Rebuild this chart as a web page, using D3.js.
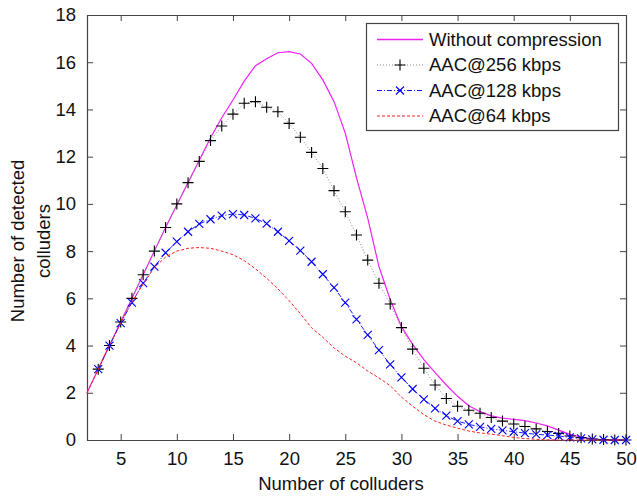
<!DOCTYPE html>
<html>
<head>
<meta charset="utf-8">
<script src="https://cdn.jsdelivr.net/npm/d3@7"></script>
<style>
  body { margin: 0; background: #fff; }
  text { font-family: "Liberation Sans", Arial, sans-serif; fill: #111; }
</style>
</head>
<body>
<script>
const svgWidth = 637;
const svgHeight = 497;

// number of colluders
const colluders = [2, 3, 4, 5, 6, 7, 8, 9, 10, 11, 12, 13, 14, 15, 16, 17, 18, 19, 20,
  21, 22, 23, 24, 25, 26, 27, 28, 29, 30, 31, 32, 33, 34, 35, 36, 37, 38, 39, 40,
  41, 42, 43, 44, 45, 46, 47, 48, 49, 50];

const noCompression = [2, 3, 4, 5, 6, 7, 8, 9, 9.95, 10.9, 11.85, 12.8, 13.65, 14.4, 15.2, 15.85, 16.15, 16.4, 16.45,
  16.35, 15.95, 15.25, 14.33, 13.0, 11.1, 9.4, 7.34, 5.95, 4.8, 4.05, 3.4, 2.85, 2.33, 1.85, 1.45, 1.2, 1.02, 0.93, 0.87,
  0.82, 0.72, 0.6, 0.42, 0.24, 0.12, 0.05, 0.01, 0, 0];

const aac256 = [null, 3, 4, 5, 6, 7, 8, 9, 10, 10.9, 11.8, 12.68, 13.3, 13.8, 14.26, 14.33, 14.09, 13.9, 13.41,
  12.82, 12.18, 11.5, 10.56, 9.67, 8.68, 7.62, 6.64, 5.76, 4.76, 3.85, 3.04, 2.33, 1.76, 1.43, 1.26, 1.13, 0.95, 0.8, 0.68,
  0.57, 0.47, 0.36, 0.28, 0.17, 0.1, 0.04, 0.02, 0, 0];

const aac128 = [null, 3, 4, 4.95, 5.82, 6.64, 7.34, 7.93, 8.4, 8.82, 9.15, 9.35, 9.5, 9.57, 9.53, 9.39, 9.16, 8.82, 8.43,
  8.02, 7.55, 7.02, 6.45, 5.82, 5.11, 4.45, 3.81, 3.2, 2.65, 2.16, 1.72, 1.34, 1.03, 0.8, 0.66, 0.56, 0.47, 0.41, 0.35,
  0.29, 0.24, 0.21, 0.17, 0.11, 0.07, 0.03, 0.01, 0, 0];

const aac64 = [2, 3, 4, 4.95, 5.85, 6.6, 7.3, 7.75, 8.0, 8.12, 8.15, 8.12, 8.0, 7.85, 7.6, 7.25, 6.85, 6.4, 5.9,
  5.35, 4.75, 4.35, 3.9, 3.55, 3.27, 2.92, 2.63, 2.3, 1.82, 1.43, 1.07, 0.8, 0.63, 0.5, 0.38, 0.3, 0.25, 0.18, 0.11,
  0.06, 0.03, 0.01, 0, 0, 0, 0, 0, 0, 0];

const xTicks = [5, 10, 15, 20, 25, 30, 35, 40, 45, 50];
const yTicks = [0, 2, 4, 6, 8, 10, 12, 14, 16, 18];

const series = [
  { name: 'Without compression', values: noCompression, color: '#f020f0', dash: null, marker: null },
  { name: 'AAC@256 kbps', values: aac256, color: '#888', dash: '1,2', marker: 'plus', markerColor: '#000' },
  { name: 'AAC@128 kbps', values: aac128, color: '#1a1aff', dash: '5,2,1,2', marker: 'cross', markerColor: '#0000ff' },
  { name: 'AAC@64 kbps', values: aac64, color: '#ff2020', dash: '3,2', marker: null }
];

const margin = { left: 87, right: 11, top: 15, bottom: 57 };
const plotW = svgWidth - margin.left - margin.right;
const plotH = svgHeight - margin.top - margin.bottom;

const svg = d3.select('body')
              .append('svg')
              .attr('width', svgWidth)
              .attr('height', svgHeight);

const x = d3.scaleLinear().domain([2, 50]).range([margin.left, margin.left + plotW]);
const y = d3.scaleLinear().domain([0, 18]).range([margin.top + plotH, margin.top]);

const axisColor = '#444';

// axes with inward ticks, box style
function styleAxis(g) {
  g.select('.domain').attr('stroke', axisColor).attr('stroke-width', 1.2);
  g.selectAll('.tick line').attr('stroke', axisColor).attr('stroke-width', 1);
  g.selectAll('.tick text')
   .attr('fill', '#111')
   .style('font-size', '18.5px')
   .style('font-family', '"Liberation Sans", Arial, sans-serif');
}

svg.append('g')
   .attr('transform', `translate(0,${margin.top + plotH})`)
   .call(d3.axisBottom(x).tickValues(xTicks).tickSizeInner(-6).tickSizeOuter(0).tickPadding(12))
   .call(styleAxis);

svg.append('g')
   .attr('transform', `translate(0,${margin.top})`)
   .call(d3.axisTop(x).tickValues(xTicks).tickSizeInner(-6).tickSizeOuter(0).tickFormat(''))
   .call(styleAxis);

svg.append('g')
   .attr('transform', `translate(${margin.left},0)`)
   .call(d3.axisLeft(y).tickValues(yTicks).tickSizeInner(-6).tickSizeOuter(0).tickPadding(11))
   .call(styleAxis);

svg.append('g')
   .attr('transform', `translate(${margin.left + plotW},0)`)
   .call(d3.axisRight(y).tickValues(yTicks).tickSizeInner(-6).tickSizeOuter(0).tickFormat(''))
   .call(styleAxis);

// lines
const line = d3.line()
               .defined(d => d[1] !== null)
               .x(d => x(d[0]))
               .y(d => y(d[1]));

function markerPath(type, s) {
  if (type === 'plus') return `M${-s},0H${s}M0,${-s}V${s}`;
  return `M${-s},${-s}L${s},${s}M${-s},${s}L${s},${-s}`;
}

series.forEach(s => {
  const pts = colluders.map((c, i) => [c, s.values[i]]);
  svg.append('path')
     .datum(pts)
     .attr('fill', 'none')
     .attr('stroke', s.color)
     .attr('stroke-width', s.dash ? 1 : 1.2)
     .attr('stroke-dasharray', s.dash)
     .attr('d', line);

  if (s.marker) {
    svg.append('g')
       .selectAll('path')
       .data(pts.filter(d => d[1] !== null))
       .enter()
       .append('path')
       .attr('transform', d => `translate(${x(d[0])},${y(d[1])})`)
       .attr('d', markerPath(s.marker, s.marker === 'plus' ? 5.5 : 4))
       .attr('stroke', s.markerColor)
       .attr('stroke-width', 1.1)
       .attr('fill', 'none');
  }
});

// legend
const legend = svg.append('g');
legend.append('rect')
      .attr('x', 366.5).attr('y', 23.5)
      .attr('width', 252).attr('height', 107)
      .attr('fill', '#fff')
      .attr('stroke', axisColor)
      .attr('stroke-width', 1.2);

series.forEach((s, i) => {
  const ly = 39.5 + i * 25.5;
  legend.append('line')
        .attr('x1', 377).attr('x2', 423)
        .attr('y1', ly).attr('y2', ly)
        .attr('stroke', s.color)
        .attr('stroke-width', s.dash ? 1 : 1.4)
        .attr('stroke-dasharray', s.dash);
  if (s.marker) {
    legend.append('path')
          .attr('transform', `translate(400,${ly})`)
          .attr('d', markerPath(s.marker, s.marker === 'plus' ? 5.5 : 4))
          .attr('stroke', s.markerColor)
          .attr('stroke-width', 1.1);
  }
  legend.append('text')
        .attr('x', 429).attr('y', ly)
        .attr('dy', '0.35em')
        .style('font-size', '18.5px')
        .text(s.name);
});

// axis titles
svg.append('text')
   .attr('x', 341).attr('y', 490)
   .attr('text-anchor', 'middle')
   .style('font-size', '18.5px')
   .text('Number of colluders');

svg.append('text')
   .attr('transform', 'translate(24,241) rotate(-90)')
   .attr('text-anchor', 'middle')
   .style('font-size', '18.5px')
   .text('Number of detected');

svg.append('text')
   .attr('transform', 'translate(50,241) rotate(-90)')
   .attr('text-anchor', 'middle')
   .style('font-size', '18.5px')
   .text('colluders');
</script>
</body>
</html>
